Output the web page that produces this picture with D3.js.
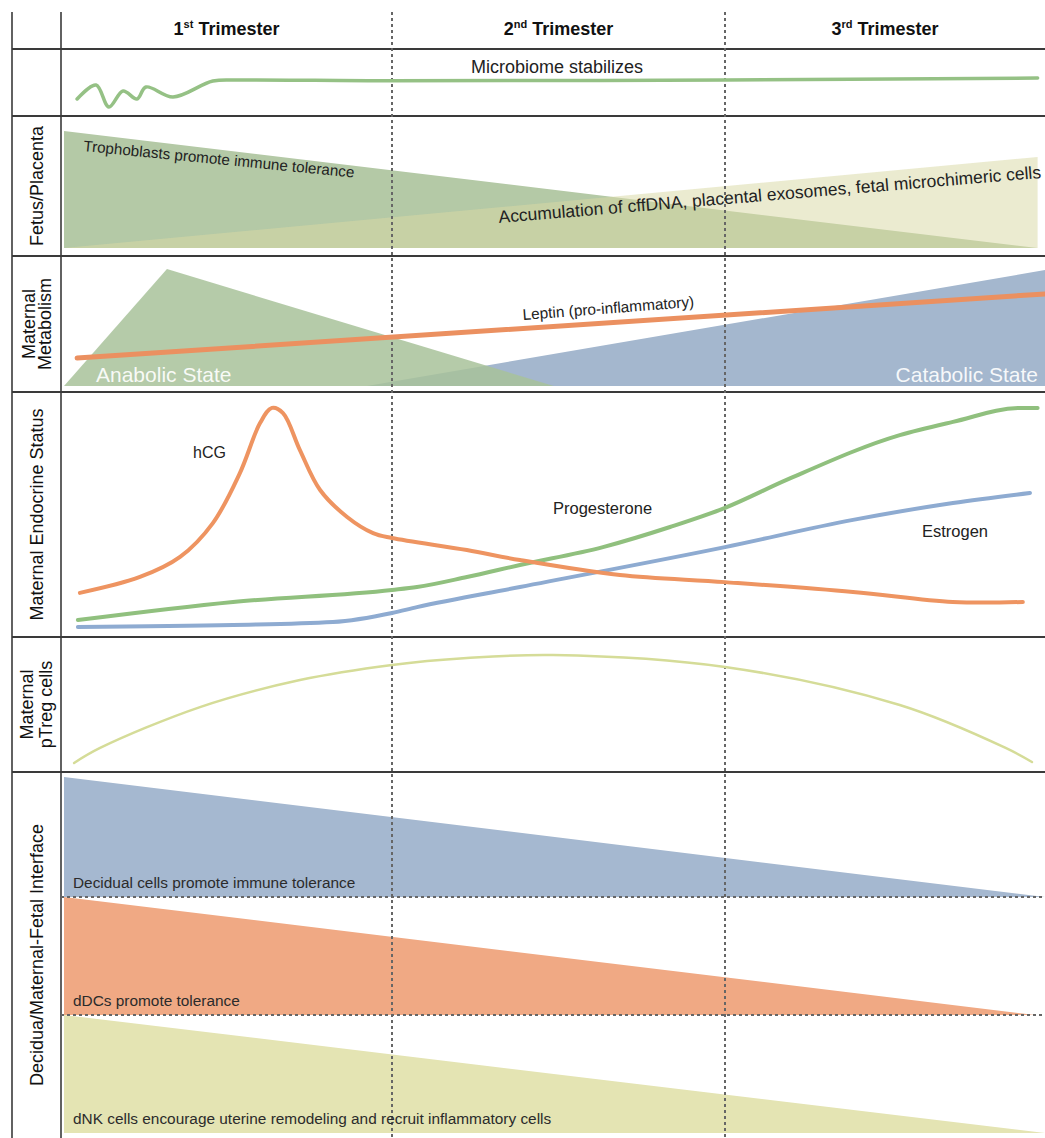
<!DOCTYPE html>
<html><head><meta charset="utf-8">
<script src="https://cdn.jsdelivr.net/npm/d3@7"></script>
<style>
body{margin:0;background:#fff}
svg{display:block;font-family:"Liberation Sans",Arial,Helvetica,sans-serif}
</style>
</head><body>
<svg id="chart" width="1045" height="1138"></svg>
<script>
// ---------------- DATA (x = gestational week, y = relative level 0-100) ----------------
const trimesterNums = ["1", "2", "3"];
const trimesterSups = ["st", "nd", "rd"];
const trimesterWord = "Trimester";
const trimesterBreaks = [0, 13, 27, 40];

const rowLabels = [
  [],
  [],
  ["Fetus/Placenta"],
  ["Maternal", "Metabolism"],
  ["Maternal Endocrine Status"],
  ["Maternal", "pTreg cells"],
  ["Decidua/Maternal-Fetal Interface"]
];

const microbiomeLabel = "Microbiome stabilizes";
const microbiome = [[0.52,25.4],[1.27,46.3],[1.78,13.4],[2.34,37.3],[2.89,25.4],[3.25,43.3],[4.32,28.4],[5.9,52.2],[6.97,53.7],[13,52.6],[27,53.7],[39.7,56.7]];

const trophoLabel = "Trophoblasts promote immune tolerance";
const trophoBase = 5.7;
const tropho = [[0,89.3],[39.7,5.7]];
const cffLabel = "Accumulation of cffDNA, placental exosomes, fetal microchimeric cells";
const cffBase = 5.7;
const cff = [[0,5.7],[39.7,70.7]];

const anabolicLabel = "Anabolic State";
const anabolicBase = 4.4;
const anabolic = [[0,4.4],[4.08,90.4],[19.8,4.4]];
const catabolicLabel = "Catabolic State";
const catabolicBase = 4.4;
const catabolic = [[12,4.4],[40,89.7]];
const leptinLabel = "Leptin (pro-inflammatory)";
const leptin = [[0.52,25],[40,72.1]];

const hcgLabel = "hCG";
const hcg = [[0.63,18.0],[3.01,24.5],[4.6,32.7],[5.9,46.5],[6.97,66.9],[7.77,87.3],[8.24,93.5],[8.68,91.4],[9.35,76.3],[10.15,60.0],[11.22,49.0],[12.25,42.4],[13,40.4],[16.15,35.5],[18.38,31.4],[22.58,25.3],[27,22.4],[32.2,18.4],[36.25,14.3],[39.1,14.3]];
const progLabel = "Progesterone";
const progesterone = [[0.55,6.9],[6.7,14.3],[13,19.2],[14.05,20.4],[16.15,24.5],[18.38,29.4],[21.87,36.7],[24.69,44.9],[27,52.7],[29.5,64.1],[34.1,82.4],[36.26,87.8],[38.98,93.5],[39.7,93.5]];
const estrLabel = "Estrogen";
const estrogen = [[0.55,4.1],[6.7,4.9],[10.66,6.1],[13,9.8],[14.05,12.2],[18.38,20.4],[27,36.7],[32.2,47.8],[36.26,54.7],[39.39,58.8]];

const ptreg = [[0.4,6.7],[1.43,17.8],[5.39,48.1],[9.35,68.1],[13,79.3],[16.15,84.4],[19.77,86.7],[27,77.8],[34.1,49.6],[38.4,17.8],[39.47,7.4]];

const decidualLabel = "Decidual cells promote immune tolerance";
const decidual = [[0,96],[40,0]];
const ddcLabel = "dDCs promote tolerance";
const ddc = [[0,100],[39.6,0]];
const dnkLabel = "dNK cells encourage uterine remodeling and recruit inflammatory cells";
const dnk = [[0,100],[40,0]];

// ---------------- LAYOUT ----------------
const W = 1045, H = 1138;
const gridLeft = 12, labelRight = 61;
const rowEdges = [12, 49, 116, 256, 392, 637, 772, 1138];
const bandEdges = [772, 897, 1015, 1133];

const svg = d3.select("#chart");
const x = d3.scaleLinear().domain(trimesterBreaks).range([64, 392, 725, 1045]);
const yRow = i => d3.scaleLinear().domain([0, 100]).range([rowEdges[i + 1], rowEdges[i]]);
const yBand = i => d3.scaleLinear().domain([0, 100]).range([bandEdges[i + 1], bandEdges[i]]);

const gFill = svg.append("g");
const gGrid = svg.append("g");
const gLines = svg.append("g");
const gText = svg.append("g");

function area(g, data, ys, base, fill, opacity) {
  const a = d3.area().x(d => x(d[0])).y0(ys(base)).y1(d => ys(d[1])).curve(d3.curveLinear);
  g.append("path").datum(data).attr("d", a).attr("fill", fill).attr("fill-opacity", opacity || 1);
}
function line(g, data, ys, color, width, curve) {
  const l = d3.line().x(d => x(d[0])).y(d => ys(d[1])).curve(curve || d3.curveMonotoneX);
  g.append("path").datum(data).attr("d", l).attr("fill", "none").attr("stroke", color)
    .attr("stroke-width", width).attr("stroke-linecap", "round").attr("stroke-linejoin", "round");
}

// Row 1: microbiome
const y1 = yRow(1);
line(gLines, microbiome, y1, "#95c185", 3.5, d3.curveCatmullRom.alpha(0.5));
gText.append("text").attr("x", 557).attr("y", 73).attr("text-anchor", "middle")
  .attr("font-size", 18).attr("fill", "#222").text(microbiomeLabel);

// Row 2: fetus / placenta
const y2 = yRow(2);
area(gFill, tropho, y2, trophoBase, "#b4c9a6");
area(gFill, cff, y2, cffBase, "#d9d9a5", 0.52);
gText.append("text").attr("transform", `translate(83,151) rotate(5.6)`)
  .attr("font-size", 15.2).attr("fill", "#222").text(trophoLabel);
gText.append("text").attr("transform", `translate(499,223) rotate(-4.75)`)
  .attr("font-size", 17.5).attr("fill", "#222").text(cffLabel);

// Row 3: metabolism
const y3 = yRow(3);
area(gFill, catabolic, y3, catabolicBase, "#a4b7ce");
area(gFill, anabolic, y3, anabolicBase, "#a8c29a", 0.85);
line(gLines, leptin, y3, "#eb9060", 5, d3.curveLinear);
gText.append("text").attr("transform", `translate(523,320) rotate(-4.4)`)
  .attr("font-size", 15.4).attr("fill", "#222").text(leptinLabel);
gText.append("text").attr("x", 96).attr("y", 382).attr("font-size", 21)
  .attr("fill", "#fff").attr("fill-opacity", 0.92).text(anabolicLabel);
gText.append("text").attr("x", 1038).attr("y", 382).attr("text-anchor", "end").attr("font-size", 21)
  .attr("fill", "#fff").attr("fill-opacity", 0.92).text(catabolicLabel);

// Row 4: endocrine
const y4 = yRow(4);
line(gLines, estrogen, y4, "#8eabd1", 4);
line(gLines, progesterone, y4, "#90c07e", 4);
line(gLines, hcg, y4, "#ee9461", 4, d3.curveCatmullRom.alpha(0.5));
gText.append("text").attr("x", 193).attr("y", 458).attr("font-size", 16).attr("fill", "#222").text(hcgLabel);
gText.append("text").attr("x", 553).attr("y", 514).attr("font-size", 16.5).attr("fill", "#222").text(progLabel);
gText.append("text").attr("x", 922).attr("y", 537).attr("font-size", 16.5).attr("fill", "#222").text(estrLabel);

// Row 5: pTreg
const y5 = yRow(5);
line(gLines, ptreg, y5, "#d5dc98", 2.5, d3.curveCatmullRom.alpha(0.5));

// Row 6: decidua bands
const bandData = [[decidual, "#a5b8d0", decidualLabel], [ddc, "#f0a984", ddcLabel], [dnk, "#e4e4b3", dnkLabel]];
bandData.forEach((b, i) => {
  const ys = yBand(i);
  area(gFill, b[0], ys, 0, b[1]);
  gText.append("text").attr("x", 73).attr("y", bandEdges[i + 1] - 9).attr("font-size", 15.4)
    .attr("fill", "#2b2b2b").text(b[2]);
});

// ---------------- GRID ----------------
const gridColor = "#3a3a3a";
[gridLeft, labelRight].forEach(xx => {
  gGrid.append("line").attr("x1", xx).attr("x2", xx).attr("y1", rowEdges[0]).attr("y2", H)
    .attr("stroke", gridColor).attr("stroke-width", 1.6);
});
rowEdges.slice(1, -1).forEach(yy => {
  gGrid.append("line").attr("x1", gridLeft).attr("x2", W).attr("y1", yy).attr("y2", yy)
    .attr("stroke", gridColor).attr("stroke-width", 1.8);
});
trimesterBreaks.slice(1, -1).forEach(w => {
  gGrid.append("line").attr("x1", x(w)).attr("x2", x(w)).attr("y1", rowEdges[0]).attr("y2", H)
    .attr("stroke", "#666").attr("stroke-width", 2).attr("stroke-dasharray", "3,3");
});
bandEdges.slice(1, -1).forEach(yy => {
  gGrid.append("line").attr("x1", labelRight).attr("x2", W).attr("y1", yy).attr("y2", yy)
    .attr("stroke", "#666").attr("stroke-width", 2).attr("stroke-dasharray", "3,3");
});

// header
const colEdges = [labelRight, x(13), x(27), W];
trimesterNums.forEach((n, i) => {
  const t = gText.append("text").attr("x", (colEdges[i] + colEdges[i + 1]) / 2).attr("y", 35)
    .attr("text-anchor", "middle").attr("font-size", 18).attr("font-weight", "bold").attr("fill", "#111");
  t.append("tspan").text(n);
  t.append("tspan").attr("font-size", 11).attr("dy", -7).text(trimesterSups[i]);
  t.append("tspan").attr("dy", 7).text(" " + trimesterWord);
});

// row labels
rowLabels.forEach((lines, i) => {
  if (!lines.length || i === 0) return;
  const r = i - 1;
  const cy = (rowEdges[r + 1] + rowEdges[r + 2]) / 2;
  let xs;
  if (lines.length === 1) xs = [43];
  else xs = (i === 5) ? [33, 52] : [35, 51];
  lines.forEach((s, k) => {
    gText.append("text").attr("transform", `translate(${xs[k]},${cy}) rotate(-90)`)
      .attr("text-anchor", "middle").attr("font-size", 18).attr("fill", "#111").text(s);
  });
});
</script>
</body></html>
